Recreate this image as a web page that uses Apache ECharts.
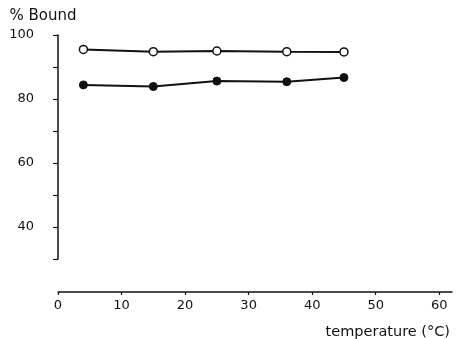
<!DOCTYPE html>
<html><head><meta charset="utf-8">
<script src="https://cdn.jsdelivr.net/npm/echarts@6/dist/echarts.min.js"></script>
<style>html,body{margin:0;padding:0;background:#fff}#c{width:456px;height:339px}</style>
</head><body><div id="c"></div>
<script>
const temperature = [4, 15, 25, 36, 45];
const openSeries = [95.5, 94.8, 95.0, 94.8, 94.7];
const filledSeries = [84.4, 83.9, 85.6, 85.4, 86.7];
const xTicks = [0, 10, 20, 30, 40, 50, 60];
const yLabels = [40, 60, 80, 100];

const font = 'DejaVu Sans';
const chart = echarts.init(document.getElementById('c'));
chart.setOption({
  animation: false,
  backgroundColor: '#fff',
  grid: {left: 58, right: 4, top: 35, bottom: 80},
  title: {text: 'temperature (°C)', right: 1, top: 320,
    textStyle: {fontFamily: font, fontSize: 14.5, fontWeight: 'normal', color: '#111'}},
  xAxis: {
    type: 'value', min: 0, max: 62, offset: 33,
    splitLine: {show: false},
    axisLine: {lineStyle: {color: '#111', width: 1.5}},
    axisTick: {customValues: xTicks, length: 3, lineStyle: {color: '#111', width: 1.2}},
    axisLabel: {customValues: xTicks, margin: 7, fontFamily: font, fontSize: 13, color: '#111'}
  },
  yAxis: {
    type: 'value', min: 30, max: 100, interval: 10, offset: 16,
    name: '% Bound', nameLocation: 'end', nameGap: 11,
    nameTextStyle: {fontFamily: font, fontSize: 15, color: '#111', align: 'center', padding: [0, 30, 0, 0]},
    splitLine: {show: false},
    axisLine: {show: true, lineStyle: {color: '#111', width: 1.5}},
    axisTick: {length: 5, lineStyle: {color: '#111', width: 1.2}},
    axisLabel: {margin: 8, fontFamily: font, fontSize: 13, color: '#111',
      formatter: v => yLabels.includes(v) ? String(v) : ''}
  },
  series: [
    {type: 'line', data: temperature.map((t, i) => [t, openSeries[i]]),
     symbol: 'circle', symbolSize: 8,
     lineStyle: {color: '#111', width: 2},
     itemStyle: {color: '#fff', borderColor: '#111', borderWidth: 1.5}},
    {type: 'line', data: temperature.map((t, i) => [t, filledSeries[i]]),
     symbol: 'circle', symbolSize: 8,
     lineStyle: {color: '#111', width: 2},
     itemStyle: {color: '#111', borderColor: '#111', borderWidth: 1}}
  ]
});
</script></body></html>
